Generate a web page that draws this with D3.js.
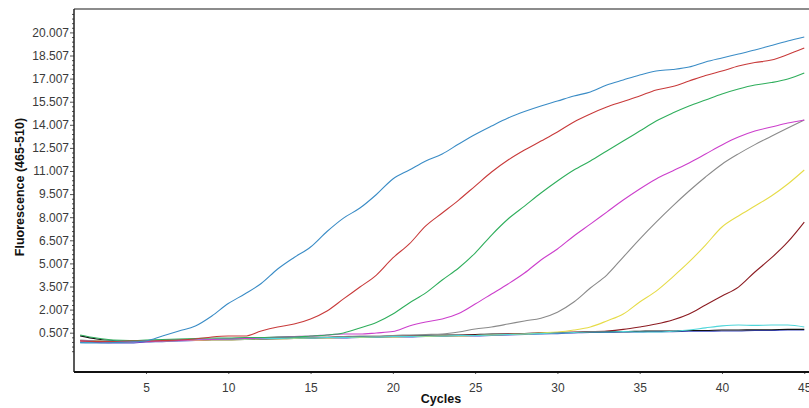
<!DOCTYPE html>
<html>
<head>
<meta charset="utf-8">
<script src="https://cdn.jsdelivr.net/npm/d3@7"></script>
<style>
body { margin: 0; background: #fff; }
text { font-family: "Liberation Sans", Arial, sans-serif; }
</style>
</head>
<body>
<script>
// cycle numbers and the y tick labels of the run
var cycles = [1,2,3,4,5,6,7,8,9,10,11,12,13,14,15,16,17,18,19,20,21,22,23,24,25,26,27,28,29,30,31,32,33,34,35,36,37,38,39,40,41,42,43,44,45];
var xTicks = [5,10,15,20,25,30,35,40,45];
var yTicks = [0.507,2.007,3.507,5.007,6.507,8.007,9.507,11.007,12.507,14.007,15.507,17.007,18.507,20.007];

// fluorescence per sample, one value per cycle
var navyCurve = [-0.10,-0.13,-0.16,-0.16,-0.10,-0.07,-0.03,0.00,0.03,0.03,
                 0.07,0.07,0.10,0.13,0.13,0.16,0.16,0.20,0.20,0.23,
                 0.23,0.26,0.26,0.29,0.29,0.33,0.36,0.39,0.42,0.45,
                 0.49,0.52,0.52,0.55,0.55,0.58,0.58,0.60,0.60,0.62,
                 0.62,0.65,0.65,0.68,0.68];
var blackCurve = [0.30,0.10,0.00,-0.03,-0.03,0.00,0.03,0.03,0.07,0.10,
                  0.10,0.13,0.16,0.16,0.20,0.20,0.23,0.26,0.26,0.29,
                  0.29,0.33,0.36,0.36,0.39,0.42,0.42,0.45,0.49,0.52,
                  0.52,0.55,0.58,0.58,0.60,0.62,0.62,0.65,0.65,0.68,
                  0.68,0.70,0.70,0.72,0.72];
var maroonCurve = [0.00,-0.03,-0.07,-0.07,-0.03,0.00,0.00,0.03,0.07,0.07,
                   0.10,0.13,0.13,0.16,0.20,0.20,0.23,0.23,0.26,0.26,
                   0.29,0.29,0.33,0.33,0.36,0.39,0.42,0.45,0.49,0.52,
                   0.55,0.58,0.62,0.72,0.88,1.07,1.33,1.72,2.31,2.89,
                   3.47,4.45,5.36,6.40,7.69];
var yellowCurve = [-0.03,-0.03,-0.07,-0.07,-0.03,-0.03,0.00,0.00,0.03,0.03,
                   0.07,0.10,0.10,0.13,0.16,0.16,0.20,0.20,0.23,0.23,
                   0.26,0.26,0.29,0.29,0.33,0.36,0.39,0.42,0.49,0.55,
                   0.68,0.88,1.27,1.72,2.50,3.21,4.12,5.10,6.20,7.37,
                   8.09,8.73,9.38,10.16,11.07];
var grayCurve = [0.03,-0.03,-0.07,-0.07,-0.03,0.00,0.03,0.07,0.10,0.10,
                 0.13,0.16,0.16,0.20,0.23,0.23,0.26,0.29,0.29,0.33,
                 0.36,0.39,0.42,0.55,0.75,0.88,1.07,1.27,1.45,1.84,
                 2.50,3.41,4.25,5.42,6.59,7.69,8.73,9.71,10.62,11.45,
                 12.12,12.72,13.26,13.80,14.32];
var cyanCurve = [-0.14,-0.07,-0.03,0.00,0.00,0.03,0.03,0.07,0.07,0.10,
                 0.10,0.13,0.13,0.16,0.16,0.20,0.20,0.23,0.23,0.26,
                 0.26,0.29,0.29,0.33,0.33,0.36,0.39,0.42,0.45,0.49,
                 0.52,0.55,0.55,0.58,0.55,0.55,0.60,0.68,0.82,0.95,
                 1.01,0.98,1.01,1.01,0.88];
var magentaCurve = [-0.03,-0.07,-0.10,-0.10,-0.07,-0.03,0.00,0.03,0.07,0.10,
                    0.13,0.16,0.23,0.26,0.29,0.36,0.42,0.42,0.49,0.58,
                    0.94,1.20,1.40,1.75,2.37,3.02,3.67,4.38,5.23,5.94,
                    6.79,7.56,8.34,9.12,9.84,10.49,11.01,11.53,12.11,12.70,
                    13.21,13.60,13.86,14.12,14.32];
var greenCurve = [0.36,0.16,0.03,0.00,0.03,0.07,0.10,0.13,0.16,0.16,
                  0.20,0.20,0.23,0.23,0.29,0.36,0.49,0.81,1.17,1.72,
                  2.44,3.09,3.93,4.71,5.68,6.85,7.89,8.73,9.58,10.36,
                  11.07,11.66,12.31,12.95,13.60,14.25,14.77,15.23,15.62,16.01,
                  16.33,16.59,16.75,16.98,17.37];
var redCurve = [-0.03,-0.07,-0.07,-0.03,-0.03,0.00,0.03,0.10,0.23,0.29,
                0.29,0.62,0.88,1.07,1.40,1.92,2.70,3.47,4.25,5.36,
                6.27,7.44,8.28,9.12,10.03,10.94,11.72,12.37,12.95,13.54,
                14.19,14.71,15.16,15.52,15.88,16.27,16.49,16.85,17.21,17.50,
                17.82,18.05,18.21,18.57,18.99];
var blueCurve = [-0.14,-0.16,-0.13,-0.10,-0.03,0.29,0.62,0.94,1.59,2.40,
                 3.02,3.70,4.64,5.39,6.07,7.08,7.95,8.60,9.48,10.49,
                 11.07,11.66,12.11,12.76,13.38,13.93,14.45,14.87,15.23,15.55,
                 15.88,16.14,16.59,16.92,17.24,17.50,17.60,17.76,18.09,18.35,
                 18.60,18.86,19.16,19.45,19.71];

// drawing order, first one ends up at the bottom
var curves = [navyCurve, blackCurve, maroonCurve, yellowCurve, grayCurve,
              cyanCurve, magentaCurve, greenCurve, redCurve, blueCurve];
var curveColours = ["#3a46c0", "#111111", "#8c1c22", "#e6dc48", "#8a8a8a",
                    "#4fd6da", "#cc3fcc", "#2fae5c", "#c83a3a", "#3a8cc6"];

w = 809;
h = 408;
var padLeft = 74, padTop = 9, padRight = 812, padBottom = 372;

x = d3.scaleLinear().domain([0.625, 45.47]).range([padLeft, padRight]);
y = d3.scaleLinear().domain([-2.045, 21.527]).range([padBottom, padTop]);

svg = d3.select("body")
        .append("svg")
        .attr("width", w)
        .attr("height", h);

svg.append("rect")
   .attr("width", w)
   .attr("height", h)
   .attr("fill", "#fff");

svg.append("clipPath")
   .attr("id", "plot")
   .append("rect")
   .attr("x", padLeft)
   .attr("y", padTop)
   .attr("width", padRight - padLeft)
   .attr("height", padBottom - padTop);

// minor ticks on the y axis, 5 per step
var minor = [];
for(i=0; i<yTicks.length; i++){
    for(j=1; j<5; j++){
        minor.push(yTicks[i] - j * 0.3);
    }
}
minor.push(20.307, 20.607, 20.907, 21.207);

svg.append("g")
   .attr("transform", "translate(" + padLeft + ",0)")
   .call(d3.axisLeft(y).tickValues(minor.filter(function(d){ return y(d) < padBottom && y(d) > padTop; }))
         .tickSize(2).tickFormat(""))
   .call(function(g){ g.select(".domain").remove(); })
   .selectAll("line").attr("stroke", "#555");

var yAxis = d3.axisLeft(y)
              .tickValues(yTicks)
              .tickFormat(d3.format(".3f"))
              .tickSize(4)
              .tickPadding(1);

svg.append("g")
   .attr("class", "yaxis")
   .attr("transform", "translate(" + padLeft + ",0)")
   .call(yAxis)
   .call(function(g){ g.select(".domain").remove(); });

var xAxis = d3.axisBottom(x)
              .tickValues(xTicks)
              .tickSize(2)
              .tickPadding(9);

svg.append("g")
   .attr("class", "xaxis")
   .attr("transform", "translate(0," + padBottom + ")")
   .call(xAxis)
   .call(function(g){ g.select(".domain").remove(); });

svg.selectAll(".xaxis text, .yaxis text")
   .attr("font-family", "Liberation Sans, Arial, sans-serif")
   .attr("font-size", 12)
   .attr("fill", "#3a3a3a");
svg.selectAll(".xaxis line, .yaxis line").attr("stroke", "#555");

var line = d3.line()
             .curve(d3.curveMonotoneX)
             .x(function(d, i){ return x(cycles[i]); })
             .y(function(d){ return y(d); });

svg.append("g")
   .attr("clip-path", "url(#plot)")
   .selectAll("path")
   .data(curves)
   .join("path")
   .attr("d", line)
   .attr("fill", "none")
   .attr("stroke", function(d, i){ return curveColours[i]; })
   .attr("stroke-width", 1.1);

// frame round the plot
svg.append("line")
   .attr("x1", padLeft).attr("x2", padRight).attr("y1", padTop).attr("y2", padTop)
   .attr("stroke", "#666").attr("stroke-width", 1.5);
svg.append("line")
   .attr("x1", padLeft).attr("x2", padLeft).attr("y1", padTop).attr("y2", padBottom)
   .attr("stroke", "#222").attr("stroke-width", 1.5);
svg.append("line")
   .attr("x1", padLeft).attr("x2", padRight).attr("y1", padBottom).attr("y2", padBottom)
   .attr("stroke", "#111").attr("stroke-width", 2);

svg.append("text")
   .attr("transform", "translate(24,187) rotate(-90)")
   .style("text-anchor", "middle")
   .attr("font-size", 12.5)
   .attr("font-weight", "bold")
   .attr("fill", "#111")
   .text("Fluorescence (465-510)");

svg.append("text")
   .attr("x", 441)
   .attr("y", 403)
   .style("text-anchor", "middle")
   .attr("font-size", 12.5)
   .attr("font-weight", "bold")
   .attr("fill", "#111")
   .text("Cycles");
</script>
</body>
</html>
